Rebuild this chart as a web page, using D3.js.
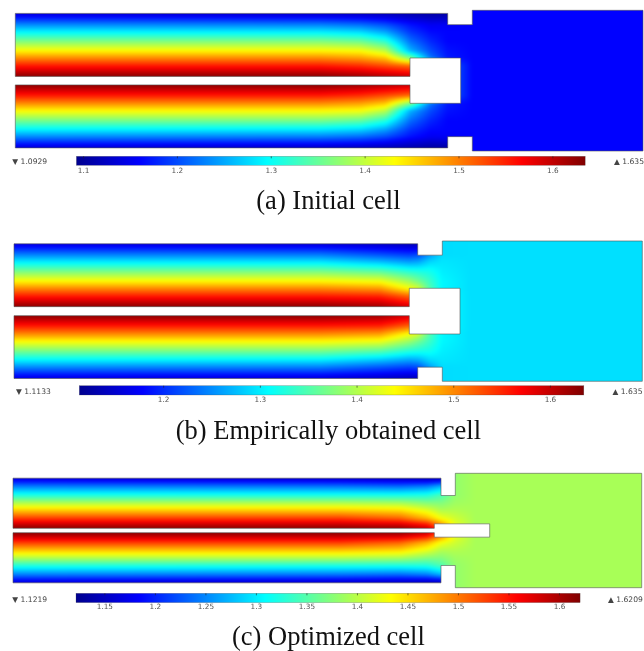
<!DOCTYPE html>
<html>
<head>
<meta charset="utf-8">
<script src="https://cdn.jsdelivr.net/npm/d3@7"></script>
<style>
  html, body { margin: 0; padding: 0; background: #fff; }
  svg { display: block; filter: blur(0.35px); }
</style>
</head>
<body>
<div id="paper"></div>
<script>
// three cell cross sections, each with its colour bar and caption

// colour map, position along the bar -> colour
const jetStops = [0, 0.125, 0.375, 0.625, 0.875, 1];
const jetColours = ["#00008f", "#0000ff", "#00ffff", "#ffff00", "#ff0000", "#800000"];

const captions = ["(a) Initial cell", "(b) Empirically obtained cell", "(c) Optimized cell"];
const minValues = [1.0929, 1.1133, 1.1219];
const maxValues = [1.635, 1.635, 1.6209];
const minLabels = ["1.0929", "1.1133", "1.1219"];
const maxLabels = ["1.635", "1.635", "1.6209"];

const ticksA = [1.1, 1.2, 1.3, 1.4, 1.5, 1.6];
const ticksB = [1.2, 1.3, 1.4, 1.5, 1.6];
const ticksC = [1.15, 1.2, 1.25, 1.3, 1.35, 1.4, 1.45, 1.5, 1.55, 1.6];

// half cell walls, [length along the cell, distance from the axis]
const outerA = [[0, 67.25], [432.4, 67.25], [432.4, 56], [457, 56], [457, 70.35], [627.7, 70.35]];
const innerA = [[0, 4.25], [394.7, 4.25], [394.7, 22.65], [445.4, 22.65]];
const outerB = [[0, 67.35], [403.7, 67.35], [403.7, 56], [428.3, 56], [428.3, 70.15], [628.3, 70.15]];
const innerB = [[0, 4.5], [395.3, 4.5], [395.3, 22.85], [446, 22.85]];
const outerC = [[0, 52.35], [428, 52.35], [428, 35], [442.3, 35], [442.3, 57.2], [628.7, 57.2]];
const innerC = [[0, 2.2], [421.3, 2.2], [421.3, 6.65], [476.7, 6.65]];

// field values: one list per station along the cell,
// each list runs outward from the axis through the stations in rowsX
const rowsA = [4.25, 15, 22.65, 30, 40, 50, 56, 67.25];
const stationsA = [0, 305, 345, 370, 395, 415, 432, 457, 625];
const fieldA = [
  [1.630, 1.554, 1.494, 1.434, 1.359, 1.283, 1.234, 1.136],
  [1.630, 1.554, 1.494, 1.434, 1.359, 1.277, 1.228, 1.125],
  [1.619, 1.543, 1.483, 1.429, 1.348, 1.266, 1.218, 1.120],
  [1.608, 1.527, 1.462, 1.396, 1.315, 1.239, 1.201, 1.115],
  [1.597, 1.510, 1.364, 1.256, 1.218, 1.185, 1.169, 1.109],
  [1.597, 1.510, 1.223, 1.201, 1.180, 1.163, 1.153, 1.104],
  [1.223, 1.223, 1.174, 1.169, 1.161, 1.161, 1.155, 1.104],
  [1.161, 1.161, 1.161, 1.161, 1.161, 1.161, 1.161, 1.161],
  [1.161, 1.161, 1.161, 1.161, 1.161, 1.161, 1.161, 1.161],
];

const rowsB = [4.5, 15, 22.85, 30, 40, 50, 56, 67.35];
const stationsB = [0, 306, 366, 395, 404, 416, 428, 456, 628];
const fieldB = [
  [1.630, 1.557, 1.499, 1.442, 1.369, 1.296, 1.249, 1.160],
  [1.630, 1.557, 1.499, 1.442, 1.369, 1.291, 1.244, 1.155],
  [1.619, 1.552, 1.489, 1.432, 1.353, 1.270, 1.223, 1.145],
  [1.593, 1.520, 1.437, 1.390, 1.327, 1.254, 1.212, 1.137],
  [1.557, 1.505, 1.416, 1.369, 1.322, 1.259, 1.218, 1.137],
  [1.374, 1.374, 1.348, 1.338, 1.317, 1.286, 1.259, 1.218],
  [1.312, 1.312, 1.306, 1.306, 1.301, 1.296, 1.291, 1.291],
  [1.293, 1.293, 1.293, 1.293, 1.293, 1.293, 1.293, 1.293],
  [1.293, 1.293, 1.293, 1.293, 1.293, 1.293, 1.293, 1.293],
];

const rowsC = [2.2, 6.65, 12, 20, 28, 35, 44, 52.35];
const stationsC = [0, 327, 387, 414, 428, 442, 462, 629];
const fieldC = [
  [1.616, 1.581, 1.531, 1.461, 1.391, 1.326, 1.247, 1.162],
  [1.616, 1.581, 1.531, 1.461, 1.391, 1.322, 1.242, 1.152],
  [1.611, 1.571, 1.511, 1.451, 1.386, 1.322, 1.237, 1.147],
  [1.586, 1.541, 1.471, 1.421, 1.371, 1.326, 1.247, 1.142],
  [1.521, 1.481, 1.431, 1.396, 1.371, 1.346, 1.272, 1.142],
  [1.431, 1.421, 1.411, 1.396, 1.386, 1.381, 1.381, 1.381],
  [1.391, 1.391, 1.391, 1.391, 1.391, 1.391, 1.391, 1.391],
  [1.391, 1.391, 1.391, 1.391, 1.391, 1.391, 1.391, 1.391],
];

// where each panel sits on the page
const layouts = [
  { left: 15.3, right: 643, top: 10.3, bottom: 151, barTop: 156.3, barH: 9, barLeft: 76.4, barRight: 585.2, minY: 164.3, labelX: 12.3, maxX: 614, capY: 208.5, tickPad: 9.5 },
  { left: 14, right: 642.3, top: 241, bottom: 381.3, barTop: 385.7, barH: 9.3, barLeft: 79.3, barRight: 583.8, minY: 394, labelX: 16, maxX: 612.5, capY: 438.5, tickPad: 9.5 },
  { left: 13, right: 641.7, top: 473.3, bottom: 587.7, barTop: 593.3, barH: 9.3, barLeft: 76, barRight: 580.1, minY: 601.5, labelX: 12.3, maxX: 608, capY: 645, tickPad: 9 },
];

const panels = [
  { outer: outerA, inner: innerA, rows: rowsA, stations: stationsA, field: fieldA, ticks: ticksA },
  { outer: outerB, inner: innerB, rows: rowsB, stations: stationsB, field: fieldB, ticks: ticksB },
  { outer: outerC, inner: innerC, rows: rowsC, stations: stationsC, field: fieldC, ticks: ticksC },
];

const width = 644;
const height = 651;
const margin = 8; // extra bitmap round the cell so the soft filter has no edge

const canvas = d3
  .select("#paper")
  .append("svg")
  .attr("width", width)
  .attr("height", height)
  .attr("viewBox", `0 0 ${width} ${height}`);

const defs = canvas.append("defs");

defs
  .append("filter")
  .attr("id", "soft")
  .attr("filterUnits", "userSpaceOnUse")
  .attr("x", 0)
  .attr("y", 0)
  .attr("width", width)
  .attr("height", height)
  .attr("color-interpolation-filters", "sRGB")
  .append("feGaussianBlur")
  .attr("stdDeviation", 1.6);

panels.forEach((p, i) => {
  const box = layouts[i];
  const g = canvas.append("g");
  const lo = minValues[i];
  const hi = maxValues[i];

  const colour = d3
    .scaleLinear()
    .domain(jetStops.map((s) => lo + s * (hi - lo)))
    .range(jetColours)
    .clamp(true);

  const halfHeight = p.outer[p.outer.length - 1][1];
  const length = p.outer[p.outer.length - 1][0];
  const x = d3.scaleLinear().domain([0, length]).range([box.left, box.right]);
  const y = d3.scaleLinear().domain([halfHeight, -halfHeight]).range([box.top, box.bottom]);

  // cell wall: upper half, mirrored lower half, then back through the gap and the inner box
  const flip = (pts) => pts.map((d) => [d[0], -d[1]]).reverse();
  const walls = [
    ...p.outer,
    ...flip(p.outer),
    ...p.inner.map((d) => [d[0], -d[1]]),
    ...p.inner.slice().reverse(),
  ];
  const line = d3.line().x((d) => x(d[0])).y((d) => y(d[1])).curve(d3.curveLinearClosed);

  defs.append("clipPath").attr("id", "cell" + i).append("path").attr("d", line(walls));

  // paint the table into a bitmap through the scales
  const rowsAcross = d3.transpose(p.field).map((vals) =>
    d3.scaleLinear().domain(p.stations).range(vals).clamp(true)
  );
  const px0 = Math.floor(box.left) - margin;
  const py0 = Math.floor(box.top) - margin;
  const w = Math.ceil(box.right) + margin - px0;
  const h = Math.ceil(box.bottom) + margin - py0;
  const bitmap = document.createElement("canvas");
  bitmap.width = w;
  bitmap.height = h;
  const ctx = bitmap.getContext("2d");
  for (let cx = 0; cx < w; cx++) {
    const along = x.invert(px0 + cx + 0.5);
    const column = d3
      .scaleLinear()
      .domain(p.rows)
      .range(rowsAcross.map((r) => r(along)))
      .clamp(true);
    for (let cy = 0; cy < h; cy++) {
      const dist = Math.abs(y.invert(py0 + cy + 0.5));
      ctx.fillStyle = colour(column(dist));
      ctx.fillRect(cx, cy, 1, 1);
    }
  }

  g.append("g")
    .attr("clip-path", `url(#cell${i})`)
    .append("image")
    .attr("href", bitmap.toDataURL())
    .attr("x", px0)
    .attr("y", py0)
    .attr("width", w)
    .attr("height", h)
    .attr("filter", "url(#soft)");

  g.append("path")
    .attr("d", line(walls))
    .attr("fill", "none")
    .attr("stroke", "#555")
    .attr("stroke-opacity", 0.75)
    .attr("stroke-width", 0.8);

  // colour bar
  const grad = defs
    .append("linearGradient")
    .attr("id", "bar" + i);
  grad
    .selectAll("stop")
    .data(jetStops)
    .join("stop")
    .attr("offset", (d) => d)
    .attr("stop-color", (d, k) => jetColours[k]);

  const barScale = d3.scaleLinear().domain([lo, hi]).range([box.barLeft, box.barRight]);

  g.append("rect")
    .attr("x", box.barLeft)
    .attr("y", box.barTop)
    .attr("width", box.barRight - box.barLeft)
    .attr("height", box.barH)
    .attr("fill", `url(#bar${i})`)
    .attr("stroke", "#444")
    .attr("stroke-opacity", 0.5)
    .attr("stroke-width", 0.5);

  const axis = d3
    .axisBottom(barScale)
    .tickValues(p.ticks)
    .tickFormat((d) => String(+d.toFixed(2)))
    .tickSizeInner(2)
    .tickSizeOuter(0)
    .tickPadding(box.tickPad);

  const axisG = g
    .append("g")
    .attr("transform", `translate(0,${box.barTop})`)
    .call(axis);
  axisG.select(".domain").remove();
  axisG.selectAll("line").attr("stroke", "#222").attr("stroke-opacity", 0.6);
  axisG
    .selectAll("text")
    .attr("font-family", "DejaVu Sans")
    .attr("font-size", 7.3)
    .attr("fill", "#555");

  // min and max readouts
  g.append("text")
    .attr("x", box.labelX)
    .attr("y", box.minY)
    .attr("font-family", "DejaVu Sans")
    .attr("font-size", 7.6)
    .attr("fill", "#444")
    .text("▼ " + minLabels[i]);
  g.append("text")
    .attr("x", box.maxX)
    .attr("y", box.minY)
    .attr("font-family", "DejaVu Sans")
    .attr("font-size", 7.6)
    .attr("fill", "#444")
    .text("▲ " + maxLabels[i]);

  g.append("text")
    .attr("x", 328.4)
    .attr("y", box.capY)
    .attr("text-anchor", "middle")
    .attr("font-family", "Liberation Serif")
    .attr("font-size", 26.5)
    .attr("fill", "#111")
    .text(captions[i]);
});
</script>
</body>
</html>
